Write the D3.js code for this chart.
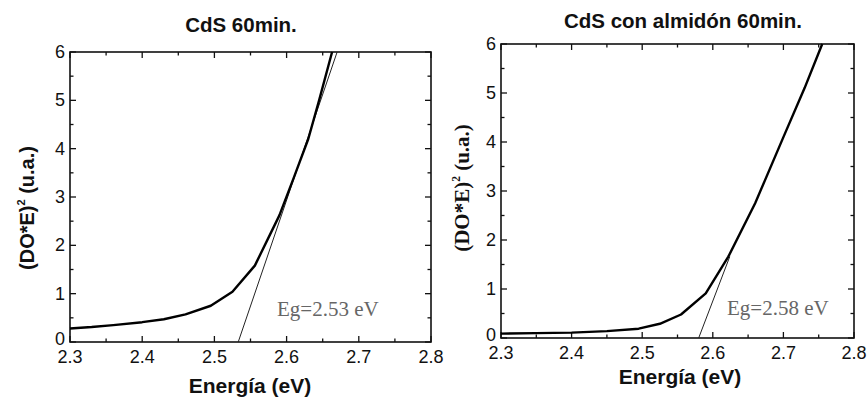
<!DOCTYPE html>
<html lang="es">
<head>
    <meta charset="UTF-8">
    <title>CdS Eg</title>
    <script src="https://d3js.org/d3.v7.min.js"></script>
    <style>
        body { margin: 0; background: #fff; }
        svg { display: block; }
        .tick-label { font-family: "Liberation Sans", Arial, sans-serif; font-size: 18px; fill: #111; }
        .title { font-family: "Liberation Sans", Arial, sans-serif; font-size: 20.5px; font-weight: bold; fill: #111; }
        .xtitle { font-family: "Liberation Sans", Arial, sans-serif; font-size: 21px; font-weight: bold; fill: #111; }
    </style>
</head>
<body>
<svg id="chart" width="867" height="398"></svg>
<script>
// left panel: CdS 60min.
const energyA = [2.30, 2.33, 2.36, 2.40, 2.43, 2.46, 2.495, 2.525, 2.556, 2.59, 2.61, 2.63, 2.645, 2.663];
const absA    = [0.28, 0.31, 0.35, 0.41, 0.47, 0.57, 0.75, 1.04, 1.58, 2.62, 3.40, 4.20, 5.00, 6.00];
const tangentA = [[2.533, 0], [2.670, 6]];

// right panel: CdS con almidón 60min.
const energyB = [2.30, 2.35, 2.40, 2.45, 2.495, 2.525, 2.555, 2.59, 2.622, 2.66, 2.70, 2.73, 2.755];
const absB    = [0.09, 0.10, 0.11, 0.14, 0.19, 0.29, 0.48, 0.91, 1.66, 2.75, 4.10, 5.10, 6.00];
const tangentB = [[2.580, 0], [2.624, 1.66]];

const xTicks = [2.3, 2.4, 2.5, 2.6, 2.7, 2.8];
const yTicks = [0, 1, 2, 3, 4, 5, 6];
const titles = ["CdS 60min.", "CdS con almidón 60min."];
const egLabels = ["Eg=2.53 eV", "Eg=2.58 eV"];

const svg = d3.select('#chart');

function drawPanel(opt) {
    const x = d3.scaleLinear().domain([2.3, 2.8]).range([opt.left, opt.right]);
    const y = d3.scaleLinear().domain([0, 6]).range([opt.bottom, opt.top]);
    const g = svg.append('g');

    const minorX = d3.range(2.35, 2.8, 0.1);
    const minorY = d3.range(0.5, 6, 1);

    // inward ticks on all four sides
    const tickMark = (sel, vals, len, side) => {
        vals.forEach(v => {
            if (side === 'b') sel.append('line').attr('x1', x(v)).attr('x2', x(v)).attr('y1', opt.bottom).attr('y2', opt.bottom - len);
            if (side === 't') sel.append('line').attr('x1', x(v)).attr('x2', x(v)).attr('y1', opt.top).attr('y2', opt.top + len);
            if (side === 'l') sel.append('line').attr('y1', y(v)).attr('y2', y(v)).attr('x1', opt.left).attr('x2', opt.left + len);
            if (side === 'r') sel.append('line').attr('y1', y(v)).attr('y2', y(v)).attr('x1', opt.right).attr('x2', opt.right - len);
        });
    };
    const ticks = g.append('g').attr('stroke', '#111').attr('stroke-width', 1.3);
    ['b', 't'].forEach(s => { tickMark(ticks, xTicks, 6, s); tickMark(ticks, minorX, 3.5, s); });
    ['l', 'r'].forEach(s => { tickMark(ticks, yTicks, 6, s); tickMark(ticks, minorY, 3.5, s); });

    g.append('rect')
        .attr('x', opt.left).attr('y', opt.top)
        .attr('width', opt.right - opt.left).attr('height', opt.bottom - opt.top)
        .attr('fill', 'none').attr('stroke', '#111').attr('stroke-width', 1.6);

    g.selectAll('.xl').data(xTicks).enter().append('text')
        .attr('class', 'tick-label')
        .attr('x', d => x(d)).attr('y', opt.bottom + 21)
        .attr('text-anchor', 'middle')
        .text(d => d.toFixed(1));

    g.selectAll('.yl').data(yTicks).enter().append('text')
        .attr('class', 'tick-label')
        .attr('x', opt.left - 5).attr('y', d => y(d) + 6 - (d === 0 ? 3 : 0))
        .attr('text-anchor', 'end')
        .text(d => d);

    // tangent line
    g.append('path')
        .attr('d', d3.line().x(d => x(d[0])).y(d => y(d[1]))(opt.tangent))
        .attr('fill', 'none').attr('stroke', '#222').attr('stroke-width', 1);

    // data curve
    const pts = opt.energy.map((e, i) => [e, opt.abs[i]]);
    g.append('path')
        .attr('d', d3.line().x(d => x(d[0])).y(d => y(d[1]))(pts))
        .attr('fill', 'none').attr('stroke', '#000').attr('stroke-width', 2.4)
        .attr('stroke-linejoin', 'round');

    g.append('text')
        .attr('x', opt.egX).attr('y', opt.egY)
        .attr('font-family', '"Liberation Serif", "Times New Roman", serif')
        .attr('font-size', 21).attr('fill', '#666')
        .text(opt.eg);

    g.append('text').attr('class', 'title')
        .attr('x', opt.titleX).attr('y', opt.titleY)
        .attr('text-anchor', 'middle').text(opt.title);

    g.append('text').attr('class', 'xtitle')
        .attr('x', opt.xTitleX).attr('y', opt.xTitleY)
        .attr('text-anchor', 'middle').text('Energía (eV)');

    const yt = g.append('text')
        .attr('transform', `translate(${opt.yTitleX},${opt.yTitleY}) rotate(-90)`)
        .attr('text-anchor', 'middle')
        .attr('font-family', opt.yFont)
        .attr('font-size', opt.yFontSize).attr('font-weight', 'bold').attr('fill', '#111');
    yt.append('tspan').text('(DO*E)');
    yt.append('tspan').attr('dy', -9).attr('font-size', opt.yFontSize * 0.55).text('2');
    yt.append('tspan').attr('dy', 9).text(' (u.a.)');
}

drawPanel({
    left: 70, right: 431, top: 52, bottom: 342,
    energy: energyA, abs: absA, tangent: tangentA,
    eg: egLabels[0], egX: 277, egY: 316,
    title: titles[0], titleX: 241, titleY: 32,
    xTitleX: 250, xTitleY: 393,
    yTitleX: 34, yTitleY: 208,
    yFont: '"Liberation Sans", Arial, sans-serif', yFontSize: 20
});

drawPanel({
    left: 501, right: 854, top: 44, bottom: 338,
    energy: energyB, abs: absB, tangent: tangentB,
    eg: egLabels[1], egX: 727, egY: 315,
    title: titles[1], titleX: 683, titleY: 28,
    xTitleX: 680, xTitleY: 384,
    yTitleX: 469, yTitleY: 188,
    yFont: '"Liberation Serif", "Times New Roman", serif', yFontSize: 21
});
</script>
</body>
</html>
